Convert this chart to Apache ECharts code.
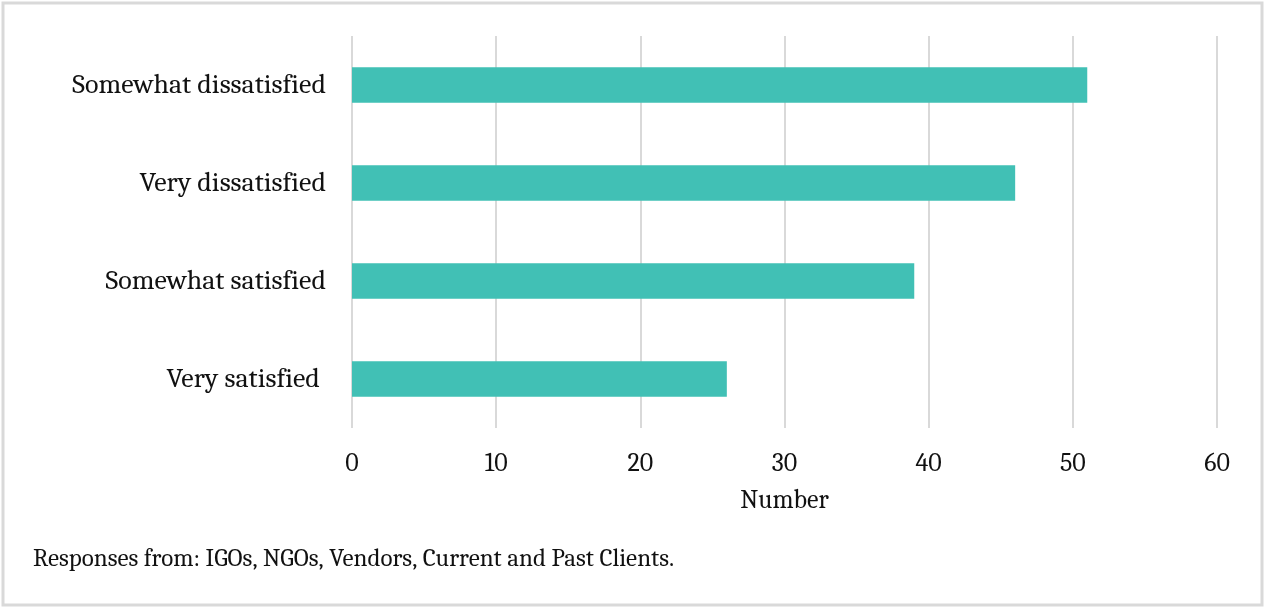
<!DOCTYPE html>
<html>
<head>
<meta charset="utf-8">
<script src="https://cdn.jsdelivr.net/npm/echarts@6/dist/echarts.min.js"></script>
<style>
html, body { margin: 0; padding: 0; background: #fff; }
#main { width: 1266px; height: 608px; }
</style>
</head>
<body>
<div id="main"></div>
<script>
// categories bottom -> top
var categories = ['Very satisfied ', 'Somewhat satisfied', 'Very dissatisfied', 'Somewhat dissatisfied'];
var counts = [26, 39, 46, 51];
var xTicks = [0, 10, 20, 30, 40, 50, 60];

var serif = 'Cambria, "DejaVu Serif", serif';

var chart = echarts.init(document.getElementById('main'));

var option = {
	backgroundColor: '#fff',
	animation: false,
	grid: {
		left: 352,
		right: 49,
		top: 36,
		bottom: 180
	},
	xAxis: {
		type: 'value',
		min: xTicks[0],
		max: xTicks[xTicks.length - 1],
		interval: 10,
		name: 'Number',
		nameLocation: 'middle',
		nameGap: 60,
		nameTextStyle: { fontFamily: serif, fontSize: 26, color: '#111' },
		axisLine: { show: false },
		axisTick: { show: false },
		axisLabel: { fontFamily: serif, fontSize: 26, color: '#111', margin: 23 },
		splitLine: { lineStyle: { color: '#d9d9d9', width: 2 } }
	},
	yAxis: {
		type: 'category',
		data: categories,
		axisLine: { show: false },
		axisTick: { show: false },
		axisLabel: { fontFamily: serif, fontSize: 28, color: '#111', margin: 26 }
	},
	series: [{
		type: 'bar',
		data: counts,
		barCategoryGap: '64%',
		itemStyle: { color: '#41c0b5' }
	}],
	graphic: [
		{
			type: 'rect',
			shape: { x: 3, y: 3, width: 1259, height: 602 },
			style: { fill: 'none', stroke: '#d9d9d9', lineWidth: 3 },
			silent: true
		},
		{
			type: 'text',
			left: 33,
			top: 546,
			style: {
				text: 'Responses from: IGOs, NGOs, Vendors, Current and Past Clients.',
				font: '25px ' + serif,
				fill: '#111'
			}
		}
	]
};

chart.setOption(option);
</script>
</body>
</html>
